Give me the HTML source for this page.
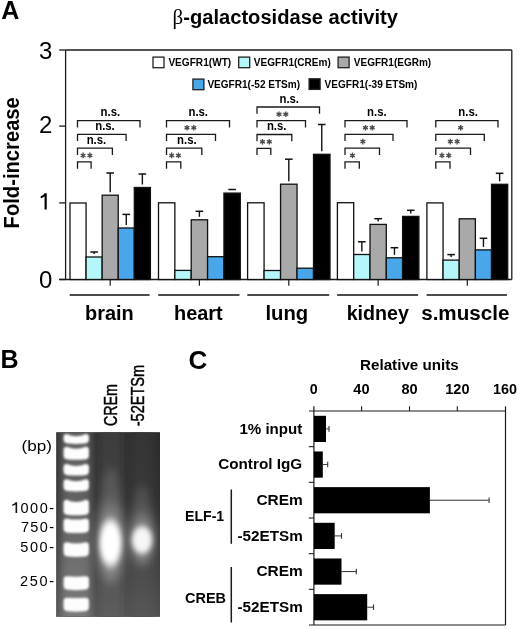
<!DOCTYPE html>
<html><head><meta charset="utf-8"><title>Figure</title>
<style>
html,body{margin:0;padding:0;background:#fff;}
body{width:520px;height:629px;overflow:hidden;font-family:"Liberation Sans", sans-serif;}
svg{display:block;opacity:0.999;}
</style></head>
<body>
<svg width="520" height="629" viewBox="0 0 520 629">
<rect x="0" y="0" width="520" height="629" fill="#fff"/>
<text x="1.2" y="19.1" font-size="25" font-weight="bold" fill="#000" text-anchor="start" font-family='"Liberation Sans", sans-serif' >A</text>
<text x="172.6" y="24.2" font-size="21" font-weight="normal" fill="#000" text-anchor="start" font-family='"Liberation Serif", serif' >&#946;</text>
<text x="183.3" y="23.8" font-size="20" font-weight="bold" fill="#000" text-anchor="start" textLength="214.6" lengthAdjust="spacingAndGlyphs" font-family='"Liberation Sans", sans-serif' >-galactosidase activity</text>
<text transform='translate(19.1,228.4) rotate(-90)' font-size='22' font-weight='bold' font-family='"Liberation Sans", sans-serif' textLength='131.2' lengthAdjust='spacingAndGlyphs'>Fold-increase</text>
<text x="52.4" y="59.2" font-size="24" font-weight="normal" fill="#000" text-anchor="end" font-family='"Liberation Sans", sans-serif' >3</text>
<text x="52.4" y="132.9" font-size="24" font-weight="normal" fill="#000" text-anchor="end" font-family='"Liberation Sans", sans-serif' >2</text>
<text x="52.4" y="287.8" font-size="24" font-weight="normal" fill="#000" text-anchor="end" font-family='"Liberation Sans", sans-serif' >0</text>
<path d="M44.55,193.2 H46.75 V209.6 H44.55 V196.6 Q43.2,197.6 40.7,198.2 V196.3 Q43.5,195.3 44.55,193.2 Z" fill="#000"/>
<line x1="59.2" y1="50" x2="65.6" y2="50" stroke="#1a1a1a" stroke-width="1.3"/>
<line x1="59.2" y1="126.1" x2="65.6" y2="126.1" stroke="#1a1a1a" stroke-width="1.3"/>
<line x1="59.2" y1="202.9" x2="65.6" y2="202.9" stroke="#1a1a1a" stroke-width="1.3"/>
<line x1="59.2" y1="279.5" x2="65.6" y2="279.5" stroke="#1a1a1a" stroke-width="1.3"/>
<line x1="65.6" y1="50" x2="65.6" y2="279.5" stroke="#1a1a1a" stroke-width="1.3"/>
<line x1="65.6" y1="50" x2="511.8" y2="50" stroke="#1a1a1a" stroke-width="1.3"/>
<line x1="511.8" y1="50" x2="511.8" y2="279.5" stroke="#1a1a1a" stroke-width="1.3"/>
<line x1="59.2" y1="279.5" x2="511.8" y2="279.5" stroke="#1a1a1a" stroke-width="1.3"/>
<rect x="70.0" y="203.0" width="16.08" height="76.5" fill="#ffffff" stroke="#111" stroke-width="1.3"/>
<line x1="94.12" y1="254.0" x2="94.12" y2="252.0" stroke="#111" stroke-width="1.4"/>
<line x1="90.32" y1="252.0" x2="97.92" y2="252.0" stroke="#111" stroke-width="1.5"/>
<rect x="86.08" y="257.0" width="16.08" height="22.5" fill="#b5f6fb" stroke="#111" stroke-width="1.3"/>
<line x1="110.2" y1="192.2" x2="110.2" y2="173.0" stroke="#111" stroke-width="1.4"/>
<line x1="106.4" y1="173.0" x2="114.0" y2="173.0" stroke="#111" stroke-width="1.5"/>
<rect x="102.16" y="195.2" width="16.08" height="84.3" fill="#a9a9a9" stroke="#111" stroke-width="1.3"/>
<line x1="126.28" y1="225.0" x2="126.28" y2="214.4" stroke="#111" stroke-width="1.4"/>
<line x1="122.48" y1="214.4" x2="130.08" y2="214.4" stroke="#111" stroke-width="1.5"/>
<rect x="118.24" y="228.0" width="16.08" height="51.5" fill="#4aa6ea" stroke="#111" stroke-width="1.3"/>
<line x1="142.36" y1="184.5" x2="142.36" y2="174.0" stroke="#111" stroke-width="1.4"/>
<line x1="138.56" y1="174.0" x2="146.16" y2="174.0" stroke="#111" stroke-width="1.5"/>
<rect x="134.32" y="187.5" width="16.08" height="92.0" fill="#000000" stroke="#111" stroke-width="1.3"/>
<line x1="110.2" y1="279.5" x2="110.2" y2="285.8" stroke="#1a1a1a" stroke-width="1.2"/>
<line x1="69.7" y1="295" x2="149.6" y2="295" stroke="#111" stroke-width="1.4"/>
<rect x="158.5" y="202.8" width="16.36" height="76.7" fill="#ffffff" stroke="#111" stroke-width="1.3"/>
<rect x="174.86" y="270.4" width="16.36" height="9.1" fill="#b5f6fb" stroke="#111" stroke-width="1.3"/>
<line x1="199.4" y1="216.8" x2="199.4" y2="211.3" stroke="#111" stroke-width="1.4"/>
<line x1="195.6" y1="211.3" x2="203.2" y2="211.3" stroke="#111" stroke-width="1.5"/>
<rect x="191.22" y="219.8" width="16.36" height="59.7" fill="#a9a9a9" stroke="#111" stroke-width="1.3"/>
<rect x="207.58" y="256.7" width="16.36" height="22.8" fill="#4aa6ea" stroke="#111" stroke-width="1.3"/>
<line x1="232.12" y1="190.1" x2="232.12" y2="189.5" stroke="#111" stroke-width="1.4"/>
<line x1="228.32" y1="189.5" x2="235.92" y2="189.5" stroke="#111" stroke-width="1.5"/>
<rect x="223.94" y="193.1" width="16.36" height="86.4" fill="#000000" stroke="#111" stroke-width="1.3"/>
<line x1="199.4" y1="279.5" x2="199.4" y2="285.8" stroke="#1a1a1a" stroke-width="1.2"/>
<line x1="158.2" y1="295" x2="239.5" y2="295" stroke="#111" stroke-width="1.4"/>
<rect x="247.6" y="202.8" width="16.48" height="76.7" fill="#ffffff" stroke="#111" stroke-width="1.3"/>
<rect x="264.08" y="270.5" width="16.48" height="9.0" fill="#b5f6fb" stroke="#111" stroke-width="1.3"/>
<line x1="288.8" y1="181.2" x2="288.8" y2="159.2" stroke="#111" stroke-width="1.4"/>
<line x1="285.0" y1="159.2" x2="292.6" y2="159.2" stroke="#111" stroke-width="1.5"/>
<rect x="280.56" y="184.2" width="16.48" height="95.3" fill="#a9a9a9" stroke="#111" stroke-width="1.3"/>
<rect x="297.04" y="268.2" width="16.48" height="11.3" fill="#4aa6ea" stroke="#111" stroke-width="1.3"/>
<line x1="321.76" y1="151.3" x2="321.76" y2="124.5" stroke="#111" stroke-width="1.4"/>
<line x1="317.96" y1="124.5" x2="325.56" y2="124.5" stroke="#111" stroke-width="1.5"/>
<rect x="313.52" y="154.3" width="16.48" height="125.2" fill="#000000" stroke="#111" stroke-width="1.3"/>
<line x1="288.8" y1="279.5" x2="288.8" y2="285.8" stroke="#1a1a1a" stroke-width="1.2"/>
<line x1="247.3" y1="295" x2="329.2" y2="295" stroke="#111" stroke-width="1.4"/>
<rect x="337.4" y="202.7" width="16.3" height="76.8" fill="#ffffff" stroke="#111" stroke-width="1.3"/>
<line x1="361.85" y1="251.5" x2="361.85" y2="241.8" stroke="#111" stroke-width="1.4"/>
<line x1="358.05" y1="241.8" x2="365.65" y2="241.8" stroke="#111" stroke-width="1.5"/>
<rect x="353.7" y="254.5" width="16.3" height="25.0" fill="#b5f6fb" stroke="#111" stroke-width="1.3"/>
<line x1="378.15" y1="221.4" x2="378.15" y2="218.7" stroke="#111" stroke-width="1.4"/>
<line x1="374.35" y1="218.7" x2="381.95" y2="218.7" stroke="#111" stroke-width="1.5"/>
<rect x="370.0" y="224.4" width="16.3" height="55.1" fill="#a9a9a9" stroke="#111" stroke-width="1.3"/>
<line x1="394.45" y1="254.8" x2="394.45" y2="247.7" stroke="#111" stroke-width="1.4"/>
<line x1="390.65" y1="247.7" x2="398.25" y2="247.7" stroke="#111" stroke-width="1.5"/>
<rect x="386.3" y="257.8" width="16.3" height="21.7" fill="#4aa6ea" stroke="#111" stroke-width="1.3"/>
<line x1="410.75" y1="213.4" x2="410.75" y2="210.3" stroke="#111" stroke-width="1.4"/>
<line x1="406.95" y1="210.3" x2="414.55" y2="210.3" stroke="#111" stroke-width="1.5"/>
<rect x="402.6" y="216.4" width="16.3" height="63.1" fill="#000000" stroke="#111" stroke-width="1.3"/>
<line x1="378.15" y1="279.5" x2="378.15" y2="285.8" stroke="#1a1a1a" stroke-width="1.2"/>
<line x1="337.1" y1="295" x2="418.1" y2="295" stroke="#111" stroke-width="1.4"/>
<rect x="426.9" y="202.9" width="16.16" height="76.6" fill="#ffffff" stroke="#111" stroke-width="1.3"/>
<line x1="451.14" y1="257.1" x2="451.14" y2="254.6" stroke="#111" stroke-width="1.4"/>
<line x1="447.34" y1="254.6" x2="454.94" y2="254.6" stroke="#111" stroke-width="1.5"/>
<rect x="443.06" y="260.1" width="16.16" height="19.4" fill="#b5f6fb" stroke="#111" stroke-width="1.3"/>
<rect x="459.22" y="218.8" width="16.16" height="60.7" fill="#a9a9a9" stroke="#111" stroke-width="1.3"/>
<line x1="483.46" y1="246.9" x2="483.46" y2="238.3" stroke="#111" stroke-width="1.4"/>
<line x1="479.66" y1="238.3" x2="487.26" y2="238.3" stroke="#111" stroke-width="1.5"/>
<rect x="475.38" y="249.9" width="16.16" height="29.6" fill="#4aa6ea" stroke="#111" stroke-width="1.3"/>
<line x1="499.62" y1="181.3" x2="499.62" y2="173.3" stroke="#111" stroke-width="1.4"/>
<line x1="495.82" y1="173.3" x2="503.42" y2="173.3" stroke="#111" stroke-width="1.5"/>
<rect x="491.54" y="184.3" width="16.16" height="95.2" fill="#000000" stroke="#111" stroke-width="1.3"/>
<line x1="467.3" y1="279.5" x2="467.3" y2="285.8" stroke="#1a1a1a" stroke-width="1.2"/>
<line x1="426.6" y1="295" x2="506.9" y2="295" stroke="#111" stroke-width="1.4"/>
<text x="85.0" y="319.7" font-size="19.5" font-weight="bold" fill="#000" text-anchor="start" textLength="48.8" lengthAdjust="spacingAndGlyphs" font-family='"Liberation Sans", sans-serif' >brain</text>
<text x="174.0" y="319.7" font-size="19.5" font-weight="bold" fill="#000" text-anchor="start" textLength="48.7" lengthAdjust="spacingAndGlyphs" font-family='"Liberation Sans", sans-serif' >heart</text>
<text x="265.4" y="319.7" font-size="19.5" font-weight="bold" fill="#000" text-anchor="start" textLength="42.8" lengthAdjust="spacingAndGlyphs" font-family='"Liberation Sans", sans-serif' >lung</text>
<text x="346.7" y="319.7" font-size="19.5" font-weight="bold" fill="#000" text-anchor="start" textLength="62.3" lengthAdjust="spacingAndGlyphs" font-family='"Liberation Sans", sans-serif' >kidney</text>
<text x="421.2" y="319.7" font-size="19.5" font-weight="bold" fill="#000" text-anchor="start" textLength="88.2" lengthAdjust="spacingAndGlyphs" font-family='"Liberation Sans", sans-serif' >s.muscle</text>
<rect x="153.0" y="57.1" width="11.0" height="10.6" fill="#ffffff" stroke="#222" stroke-width="1.3"/>
<rect x="238.7" y="57.1" width="11.0" height="10.6" fill="#b5f6fb" stroke="#222" stroke-width="1.3"/>
<rect x="338.1" y="57.1" width="11.0" height="10.6" fill="#a9a9a9" stroke="#222" stroke-width="1.3"/>
<rect x="192.9" y="79.1" width="11.0" height="10.6" fill="#4aa6ea" stroke="#222" stroke-width="1.3"/>
<rect x="309.1" y="78.8" width="11.0" height="10.6" fill="#000000" stroke="#222" stroke-width="1.3"/>
<text x="168.4" y="66.2" font-size="10.7" font-weight="bold" fill="#000" text-anchor="start" textLength="62.8" lengthAdjust="spacingAndGlyphs" font-family='"Liberation Sans", sans-serif' >VEGFR1(WT)</text>
<text x="253.8" y="66.2" font-size="10.7" font-weight="bold" fill="#000" text-anchor="start" textLength="77.0" lengthAdjust="spacingAndGlyphs" font-family='"Liberation Sans", sans-serif' >VEGFR1(CREm)</text>
<text x="353.8" y="66.2" font-size="10.7" font-weight="bold" fill="#000" text-anchor="start" textLength="77.4" lengthAdjust="spacingAndGlyphs" font-family='"Liberation Sans", sans-serif' >VEGFR1(EGRm)</text>
<text x="207.4" y="88.3" font-size="10.7" font-weight="bold" fill="#000" text-anchor="start" textLength="92.7" lengthAdjust="spacingAndGlyphs" font-family='"Liberation Sans", sans-serif' >VEGFR1(-52 ETSm)</text>
<text x="324.6" y="88.3" font-size="10.7" font-weight="bold" fill="#000" text-anchor="start" textLength="92.8" lengthAdjust="spacingAndGlyphs" font-family='"Liberation Sans", sans-serif' >VEGFR1(-39 ETSm)</text>
<path d="M77.5,127.39999999999999 V120.6 H140.0 V127.39999999999999" fill="none" stroke="#1a1a1a" stroke-width="1.3"/>
<text x="110.4" y="116.39999999999999" font-size="12.5" font-weight="bold" fill="#000" text-anchor="middle" textLength="19.6" lengthAdjust="spacingAndGlyphs" font-family='"Liberation Sans", sans-serif' >n.s.</text>
<path d="M77.5,141.10000000000002 V134.3 H126.1 V141.10000000000002" fill="none" stroke="#1a1a1a" stroke-width="1.3"/>
<text x="105.0" y="130.10000000000002" font-size="12.5" font-weight="bold" fill="#000" text-anchor="middle" textLength="19.6" lengthAdjust="spacingAndGlyphs" font-family='"Liberation Sans", sans-serif' >n.s.</text>
<path d="M77.5,154.9 V148.1 H112.4 V154.9" fill="none" stroke="#1a1a1a" stroke-width="1.3"/>
<text x="96.45" y="143.9" font-size="12.5" font-weight="bold" fill="#000" text-anchor="middle" textLength="19.6" lengthAdjust="spacingAndGlyphs" font-family='"Liberation Sans", sans-serif' >n.s.</text>
<path d="M77.5,168.70000000000002 V161.9 H91.1 V168.70000000000002" fill="none" stroke="#1a1a1a" stroke-width="1.3"/>
<line x1="83.10" y1="152.60" x2="83.10" y2="158.20" stroke="#4a4a4a" stroke-width="1.35"/>
<line x1="80.68" y1="154.00" x2="85.52" y2="156.80" stroke="#4a4a4a" stroke-width="1.35"/>
<line x1="85.52" y1="154.00" x2="80.68" y2="156.80" stroke="#4a4a4a" stroke-width="1.35"/>
<line x1="89.90" y1="152.60" x2="89.90" y2="158.20" stroke="#4a4a4a" stroke-width="1.35"/>
<line x1="87.48" y1="154.00" x2="92.32" y2="156.80" stroke="#4a4a4a" stroke-width="1.35"/>
<line x1="92.32" y1="154.00" x2="87.48" y2="156.80" stroke="#4a4a4a" stroke-width="1.35"/>
<path d="M166.5,127.39999999999999 V120.6 H229.5 V127.39999999999999" fill="none" stroke="#1a1a1a" stroke-width="1.3"/>
<text x="198.25" y="116.39999999999999" font-size="12.5" font-weight="bold" fill="#000" text-anchor="middle" textLength="19.6" lengthAdjust="spacingAndGlyphs" font-family='"Liberation Sans", sans-serif' >n.s.</text>
<path d="M166.5,141.10000000000002 V134.3 H215.5 V141.10000000000002" fill="none" stroke="#1a1a1a" stroke-width="1.3"/>
<line x1="187.00" y1="125.00" x2="187.00" y2="130.60" stroke="#4a4a4a" stroke-width="1.35"/>
<line x1="184.58" y1="126.40" x2="189.42" y2="129.20" stroke="#4a4a4a" stroke-width="1.35"/>
<line x1="189.42" y1="126.40" x2="184.58" y2="129.20" stroke="#4a4a4a" stroke-width="1.35"/>
<line x1="193.80" y1="125.00" x2="193.80" y2="130.60" stroke="#4a4a4a" stroke-width="1.35"/>
<line x1="191.38" y1="126.40" x2="196.22" y2="129.20" stroke="#4a4a4a" stroke-width="1.35"/>
<line x1="196.22" y1="126.40" x2="191.38" y2="129.20" stroke="#4a4a4a" stroke-width="1.35"/>
<path d="M166.5,154.9 V148.1 H201.8 V154.9" fill="none" stroke="#1a1a1a" stroke-width="1.3"/>
<text x="186.85" y="143.9" font-size="12.5" font-weight="bold" fill="#000" text-anchor="middle" textLength="19.6" lengthAdjust="spacingAndGlyphs" font-family='"Liberation Sans", sans-serif' >n.s.</text>
<path d="M166.5,168.70000000000002 V161.9 H180.8 V168.70000000000002" fill="none" stroke="#1a1a1a" stroke-width="1.3"/>
<line x1="171.65" y1="152.60" x2="171.65" y2="158.20" stroke="#4a4a4a" stroke-width="1.35"/>
<line x1="169.23" y1="154.00" x2="174.07" y2="156.80" stroke="#4a4a4a" stroke-width="1.35"/>
<line x1="174.07" y1="154.00" x2="169.23" y2="156.80" stroke="#4a4a4a" stroke-width="1.35"/>
<line x1="178.45" y1="152.60" x2="178.45" y2="158.20" stroke="#4a4a4a" stroke-width="1.35"/>
<line x1="176.03" y1="154.00" x2="180.87" y2="156.80" stroke="#4a4a4a" stroke-width="1.35"/>
<line x1="180.87" y1="154.00" x2="176.03" y2="156.80" stroke="#4a4a4a" stroke-width="1.35"/>
<path d="M257.0,113.8 V107.0 H319.5 V113.8" fill="none" stroke="#1a1a1a" stroke-width="1.3"/>
<text x="289.25" y="102.8" font-size="12.5" font-weight="bold" fill="#000" text-anchor="middle" textLength="19.6" lengthAdjust="spacingAndGlyphs" font-family='"Liberation Sans", sans-serif' >n.s.</text>
<path d="M257.0,127.50000000000001 V120.70000000000002 H305.5 V127.50000000000001" fill="none" stroke="#1a1a1a" stroke-width="1.3"/>
<line x1="279.00" y1="111.40" x2="279.00" y2="117.00" stroke="#4a4a4a" stroke-width="1.35"/>
<line x1="276.58" y1="112.80" x2="281.42" y2="115.60" stroke="#4a4a4a" stroke-width="1.35"/>
<line x1="281.42" y1="112.80" x2="276.58" y2="115.60" stroke="#4a4a4a" stroke-width="1.35"/>
<line x1="285.80" y1="111.40" x2="285.80" y2="117.00" stroke="#4a4a4a" stroke-width="1.35"/>
<line x1="283.38" y1="112.80" x2="288.22" y2="115.60" stroke="#4a4a4a" stroke-width="1.35"/>
<line x1="288.22" y1="112.80" x2="283.38" y2="115.60" stroke="#4a4a4a" stroke-width="1.35"/>
<path d="M257.0,141.3 V134.5 H291.8 V141.3" fill="none" stroke="#1a1a1a" stroke-width="1.3"/>
<text x="276.7" y="130.3" font-size="12.5" font-weight="bold" fill="#000" text-anchor="middle" textLength="19.6" lengthAdjust="spacingAndGlyphs" font-family='"Liberation Sans", sans-serif' >n.s.</text>
<path d="M257.0,155.10000000000002 V148.3 H270.8 V155.10000000000002" fill="none" stroke="#1a1a1a" stroke-width="1.3"/>
<line x1="262.50" y1="139.00" x2="262.50" y2="144.60" stroke="#4a4a4a" stroke-width="1.35"/>
<line x1="260.08" y1="140.40" x2="264.92" y2="143.20" stroke="#4a4a4a" stroke-width="1.35"/>
<line x1="264.92" y1="140.40" x2="260.08" y2="143.20" stroke="#4a4a4a" stroke-width="1.35"/>
<line x1="269.30" y1="139.00" x2="269.30" y2="144.60" stroke="#4a4a4a" stroke-width="1.35"/>
<line x1="266.88" y1="140.40" x2="271.72" y2="143.20" stroke="#4a4a4a" stroke-width="1.35"/>
<line x1="271.72" y1="140.40" x2="266.88" y2="143.20" stroke="#4a4a4a" stroke-width="1.35"/>
<path d="M345.0,127.39999999999999 V120.6 H407.0 V127.39999999999999" fill="none" stroke="#1a1a1a" stroke-width="1.3"/>
<text x="376.9" y="116.39999999999999" font-size="12.5" font-weight="bold" fill="#000" text-anchor="middle" textLength="19.6" lengthAdjust="spacingAndGlyphs" font-family='"Liberation Sans", sans-serif' >n.s.</text>
<path d="M345.0,141.10000000000002 V134.3 H393.0 V141.10000000000002" fill="none" stroke="#1a1a1a" stroke-width="1.3"/>
<line x1="365.45" y1="125.00" x2="365.45" y2="130.60" stroke="#4a4a4a" stroke-width="1.35"/>
<line x1="363.03" y1="126.40" x2="367.87" y2="129.20" stroke="#4a4a4a" stroke-width="1.35"/>
<line x1="367.87" y1="126.40" x2="363.03" y2="129.20" stroke="#4a4a4a" stroke-width="1.35"/>
<line x1="372.25" y1="125.00" x2="372.25" y2="130.60" stroke="#4a4a4a" stroke-width="1.35"/>
<line x1="369.83" y1="126.40" x2="374.67" y2="129.20" stroke="#4a4a4a" stroke-width="1.35"/>
<line x1="374.67" y1="126.40" x2="369.83" y2="129.20" stroke="#4a4a4a" stroke-width="1.35"/>
<path d="M345.0,154.9 V148.1 H379.5 V154.9" fill="none" stroke="#1a1a1a" stroke-width="1.3"/>
<line x1="362.85" y1="138.80" x2="362.85" y2="144.40" stroke="#4a4a4a" stroke-width="1.35"/>
<line x1="360.43" y1="140.20" x2="365.27" y2="143.00" stroke="#4a4a4a" stroke-width="1.35"/>
<line x1="365.27" y1="140.20" x2="360.43" y2="143.00" stroke="#4a4a4a" stroke-width="1.35"/>
<path d="M345.0,168.70000000000002 V161.9 H359.3 V168.70000000000002" fill="none" stroke="#1a1a1a" stroke-width="1.3"/>
<line x1="352.45" y1="152.60" x2="352.45" y2="158.20" stroke="#4a4a4a" stroke-width="1.35"/>
<line x1="350.03" y1="154.00" x2="354.87" y2="156.80" stroke="#4a4a4a" stroke-width="1.35"/>
<line x1="354.87" y1="154.00" x2="350.03" y2="156.80" stroke="#4a4a4a" stroke-width="1.35"/>
<path d="M435.8,127.39999999999999 V120.6 H498.0 V127.39999999999999" fill="none" stroke="#1a1a1a" stroke-width="1.3"/>
<text x="468.1" y="116.39999999999999" font-size="12.5" font-weight="bold" fill="#000" text-anchor="middle" textLength="19.6" lengthAdjust="spacingAndGlyphs" font-family='"Liberation Sans", sans-serif' >n.s.</text>
<path d="M435.8,141.10000000000002 V134.3 H484.3 V141.10000000000002" fill="none" stroke="#1a1a1a" stroke-width="1.3"/>
<line x1="460.65" y1="125.00" x2="460.65" y2="130.60" stroke="#4a4a4a" stroke-width="1.35"/>
<line x1="458.23" y1="126.40" x2="463.07" y2="129.20" stroke="#4a4a4a" stroke-width="1.35"/>
<line x1="463.07" y1="126.40" x2="458.23" y2="129.20" stroke="#4a4a4a" stroke-width="1.35"/>
<path d="M435.8,154.9 V148.1 H470.5 V154.9" fill="none" stroke="#1a1a1a" stroke-width="1.3"/>
<line x1="450.35" y1="138.80" x2="450.35" y2="144.40" stroke="#4a4a4a" stroke-width="1.35"/>
<line x1="447.93" y1="140.20" x2="452.77" y2="143.00" stroke="#4a4a4a" stroke-width="1.35"/>
<line x1="452.77" y1="140.20" x2="447.93" y2="143.00" stroke="#4a4a4a" stroke-width="1.35"/>
<line x1="457.15" y1="138.80" x2="457.15" y2="144.40" stroke="#4a4a4a" stroke-width="1.35"/>
<line x1="454.73" y1="140.20" x2="459.57" y2="143.00" stroke="#4a4a4a" stroke-width="1.35"/>
<line x1="459.57" y1="140.20" x2="454.73" y2="143.00" stroke="#4a4a4a" stroke-width="1.35"/>
<path d="M435.8,168.70000000000002 V161.9 H450.0 V168.70000000000002" fill="none" stroke="#1a1a1a" stroke-width="1.3"/>
<line x1="441.95" y1="152.60" x2="441.95" y2="158.20" stroke="#4a4a4a" stroke-width="1.35"/>
<line x1="439.53" y1="154.00" x2="444.37" y2="156.80" stroke="#4a4a4a" stroke-width="1.35"/>
<line x1="444.37" y1="154.00" x2="439.53" y2="156.80" stroke="#4a4a4a" stroke-width="1.35"/>
<line x1="448.75" y1="152.60" x2="448.75" y2="158.20" stroke="#4a4a4a" stroke-width="1.35"/>
<line x1="446.33" y1="154.00" x2="451.17" y2="156.80" stroke="#4a4a4a" stroke-width="1.35"/>
<line x1="451.17" y1="154.00" x2="446.33" y2="156.80" stroke="#4a4a4a" stroke-width="1.35"/>
<text x="0.6" y="367.7" font-size="25" font-weight="bold" fill="#000" text-anchor="start" font-family='"Liberation Sans", sans-serif' >B</text>
<text x="21.6" y="450.7" font-size="14.5" font-weight="normal" fill="#000" text-anchor="start" textLength="30.4" lengthAdjust="spacingAndGlyphs" font-family='"Liberation Sans", sans-serif' >(bp)</text>
<path d="M15.55,502.3 H17.15 V512.9 H15.55 V504.6 Q14.4,505.5 12.3,506.0 V504.6 Q14.9,503.8 15.55,502.3 Z" fill="#111"/>
<text x="20.5" y="513.1" font-size="14.5" font-weight="normal" fill="#000" text-anchor="start" textLength="33.6" lengthAdjust="spacing" font-family='"Liberation Sans", sans-serif' >000-</text>
<text x="20.9" y="532.2" font-size="14.5" font-weight="normal" fill="#000" text-anchor="start" textLength="33.2" lengthAdjust="spacing" font-family='"Liberation Sans", sans-serif' >750-</text>
<text x="20.3" y="552.0" font-size="14.5" font-weight="normal" fill="#000" text-anchor="start" textLength="33.8" lengthAdjust="spacing" font-family='"Liberation Sans", sans-serif' >500-</text>
<text x="20.1" y="586.0" font-size="14.5" font-weight="normal" fill="#000" text-anchor="start" textLength="33.9" lengthAdjust="spacing" font-family='"Liberation Sans", sans-serif' >250-</text>
<text transform='translate(117.2,426) rotate(-90)' font-size='17.5' font-family='"Liberation Sans", sans-serif' stroke='#000' stroke-width='0.45' textLength='42' lengthAdjust='spacingAndGlyphs'>CREm</text>
<text transform='translate(144.3,426.3) rotate(-90)' font-size='17.5' font-family='"Liberation Sans", sans-serif' stroke='#000' stroke-width='0.45' textLength='61.5' lengthAdjust='spacingAndGlyphs'>-52ETSm</text>
<defs>
<linearGradient id="gelv" x1="0" y1="0" x2="0" y2="1">
 <stop offset="0" stop-color="#fff" stop-opacity="0"/>
 <stop offset="0.35" stop-color="#fff" stop-opacity="0.02"/>
 <stop offset="1" stop-color="#fff" stop-opacity="0.17"/>
</linearGradient>
<radialGradient id="core" cx="0.5" cy="0.5" r="0.5">
 <stop offset="0" stop-color="#fff" stop-opacity="1"/>
 <stop offset="0.62" stop-color="#fff" stop-opacity="1"/>
 <stop offset="1" stop-color="#fff" stop-opacity="0"/>
</radialGradient>
<radialGradient id="glow" cx="0.5" cy="0.5" r="0.5">
 <stop offset="0" stop-color="#fff" stop-opacity="0.55"/>
 <stop offset="1" stop-color="#fff" stop-opacity="0"/>
</radialGradient>
<filter id="bl1" x="-30%" y="-30%" width="160%" height="160%"><feGaussianBlur stdDeviation="0.8"/></filter>
<filter id="bl2" x="-50%" y="-50%" width="200%" height="200%"><feGaussianBlur stdDeviation="2.2"/></filter>
<filter id="bl3" x="-50%" y="-50%" width="200%" height="200%"><feGaussianBlur stdDeviation="4"/></filter>
<clipPath id="gelclip"><rect x="56.2" y="432.2" width="103.8" height="184.6"/></clipPath>
</defs>
<rect x="56.2" y="432.2" width="103.8" height="184.6" fill="#2b2b2b"/>
<g clip-path="url(#gelclip)">
<rect x="60" y="425" width="32" height="200" fill="#5e5e5e" filter="url(#bl3)"/>
<rect x="98" y="425" width="26" height="200" fill="#3d3d3d" filter="url(#bl3)"/>
<rect x="129" y="425" width="25" height="200" fill="#363636" filter="url(#bl3)"/>
<rect x="56.2" y="432.2" width="103.8" height="184.6" fill="url(#gelv)"/>
<ellipse cx="110.8" cy="525" rx="11" ry="58" fill="#fff" opacity="0.13" filter="url(#bl3)"/>
<ellipse cx="142" cy="525" rx="10" ry="40" fill="#fff" opacity="0.12" filter="url(#bl3)"/>
<ellipse cx="110.6" cy="542" rx="19" ry="48" fill="url(#glow)" filter="url(#bl3)"/>
<ellipse cx="142.2" cy="539" rx="17" ry="32" fill="url(#glow)" filter="url(#bl3)"/>
<ellipse cx="110.5" cy="543" rx="13.2" ry="28" fill="url(#core)" filter="url(#bl2)"/>
<ellipse cx="142.0" cy="540.0" rx="12.2" ry="16.5" fill="url(#core)" opacity="0.92" filter="url(#bl2)"/>
<g filter="url(#bl1)" fill="#fdfdfd">
<path d="M63.6,437.0 Q63.6,434.0 67.1,434.0 C72.6,437.0 79.9,437.0 85.4,434.0 Q88.9,434.0 88.9,437.0 L88.9,439.5 Q88.9,443.5 83.9,443.5 Q76.25,444.3 68.6,443.5 Q63.6,443.5 63.6,439.5 Z"/>
<path d="M63.6,449.7 Q63.6,446.7 67.1,446.7 C72.6,449.3 79.9,449.3 85.4,446.7 Q88.9,446.7 88.9,449.7 L88.9,455.4 Q88.9,459.4 83.9,459.4 Q76.25,460.2 68.6,459.4 Q63.6,459.4 63.6,455.4 Z"/>
<path d="M63.6,467.1 Q63.6,464.1 67.1,464.1 C72.6,466.70000000000005 79.9,466.70000000000005 85.4,464.1 Q88.9,464.1 88.9,467.1 L88.9,471.2 Q88.9,475.2 83.9,475.2 Q76.25,476.0 68.6,475.2 Q63.6,475.2 63.6,471.2 Z"/>
<path d="M63.6,482.2 Q63.6,479.2 67.1,479.2 C72.6,481.8 79.9,481.8 85.4,479.2 Q88.9,479.2 88.9,482.2 L88.9,487.1 Q88.9,491.1 83.9,491.1 Q76.25,491.90000000000003 68.6,491.1 Q63.6,491.1 63.6,487.1 Z"/>
<path d="M63.6,502.8 Q63.6,499.8 67.1,499.8 C72.6,502.8 79.9,502.8 85.4,499.8 Q88.9,499.8 88.9,502.8 L88.9,510.9 Q88.9,514.9 83.9,514.9 Q76.25,515.6999999999999 68.6,514.9 Q63.6,514.9 63.6,510.9 Z"/>
<path d="M63.6,521.4 Q63.6,518.4 67.1,518.4 C72.6,520.0 79.9,520.0 85.4,518.4 Q88.9,518.4 88.9,521.4 L88.9,528.7 Q88.9,532.7 83.9,532.7 Q76.25,533.5 68.6,532.7 Q63.6,532.7 63.6,528.7 Z"/>
<path d="M63.6,545.2 Q63.6,542.2 67.1,542.2 C72.6,543.8000000000001 79.9,543.8000000000001 85.4,542.2 Q88.9,542.2 88.9,545.2 L88.9,552.5 Q88.9,556.5 83.9,556.5 Q76.25,557.3 68.6,556.5 Q63.6,556.5 63.6,552.5 Z"/>
<path d="M63.6,579.3 Q63.6,576.3 67.1,576.3 C72.6,576.9 79.9,576.9 85.4,576.3 Q88.9,576.3 88.9,579.3 L88.9,585.8 Q88.9,589.8 83.9,589.8 Q76.25,590.5999999999999 68.6,589.8 Q63.6,589.8 63.6,585.8 Z"/>
<path d="M63.6,600.8 Q63.6,597.8 67.1,597.8 C72.6,598.0999999999999 79.9,598.0999999999999 85.4,597.8 Q88.9,597.8 88.9,600.8 L88.9,607.3 Q88.9,611.3 83.9,611.3 Q76.25,612.0999999999999 68.6,611.3 Q63.6,611.3 63.6,607.3 Z"/>
</g>
</g>
<text x="188.6" y="369.3" font-size="26" font-weight="bold" fill="#000" text-anchor="start" font-family='"Liberation Sans", sans-serif' >C</text>
<text x="360.0" y="369.6" font-size="14.5" font-weight="bold" fill="#000" text-anchor="start" textLength="98.8" lengthAdjust="spacingAndGlyphs" font-family='"Liberation Sans", sans-serif' >Relative units</text>
<text x="313.8" y="394.3" font-size="14.2" font-weight="bold" fill="#000" text-anchor="middle" font-family='"Liberation Sans", sans-serif' >0</text>
<text x="361.4" y="394.3" font-size="14.2" font-weight="bold" fill="#000" text-anchor="middle" textLength="16.2" lengthAdjust="spacingAndGlyphs" font-family='"Liberation Sans", sans-serif' >40</text>
<text x="409.5" y="394.3" font-size="14.2" font-weight="bold" fill="#000" text-anchor="middle" textLength="16.2" lengthAdjust="spacingAndGlyphs" font-family='"Liberation Sans", sans-serif' >80</text>
<text x="457.4" y="394.3" font-size="14.2" font-weight="bold" fill="#000" text-anchor="middle" textLength="24.2" lengthAdjust="spacingAndGlyphs" font-family='"Liberation Sans", sans-serif' >120</text>
<text x="505.0" y="394.3" font-size="14.2" font-weight="bold" fill="#000" text-anchor="middle" textLength="24.0" lengthAdjust="spacingAndGlyphs" font-family='"Liberation Sans", sans-serif' >160</text>
<line x1="309.0" y1="411.0" x2="505.5" y2="411.0" stroke="#1a1a1a" stroke-width="1.2"/>
<line x1="313.9" y1="406.3" x2="313.9" y2="625.0" stroke="#1a1a1a" stroke-width="1.2"/>
<line x1="505.5" y1="406.3" x2="505.5" y2="625.0" stroke="#1a1a1a" stroke-width="1.2"/>
<line x1="309.0" y1="625.0" x2="505.5" y2="625.0" stroke="#1a1a1a" stroke-width="1.2"/>
<line x1="361.6" y1="406.3" x2="361.6" y2="411.0" stroke="#1a1a1a" stroke-width="1.1"/>
<line x1="409.5" y1="406.3" x2="409.5" y2="411.0" stroke="#1a1a1a" stroke-width="1.1"/>
<line x1="457.3" y1="406.3" x2="457.3" y2="411.0" stroke="#1a1a1a" stroke-width="1.1"/>
<line x1="308.8" y1="446.67" x2="313.9" y2="446.67" stroke="#1a1a1a" stroke-width="1.1"/>
<line x1="308.8" y1="482.33" x2="313.9" y2="482.33" stroke="#1a1a1a" stroke-width="1.1"/>
<line x1="308.8" y1="518.0" x2="313.9" y2="518.0" stroke="#1a1a1a" stroke-width="1.1"/>
<line x1="308.8" y1="553.67" x2="313.9" y2="553.67" stroke="#1a1a1a" stroke-width="1.1"/>
<line x1="308.8" y1="589.33" x2="313.9" y2="589.33" stroke="#1a1a1a" stroke-width="1.1"/>
<rect x="313.9" y="415.8" width="12.1" height="26.2" fill="#000"/>
<line x1="326.0" y1="428.9" x2="329.0" y2="428.9" stroke="#333" stroke-width="1.0"/>
<line x1="329.0" y1="426.1" x2="329.0" y2="431.7" stroke="#333" stroke-width="1.1"/>
<rect x="313.9" y="451.47" width="8.9" height="26.2" fill="#000"/>
<line x1="322.8" y1="464.57" x2="327.7" y2="464.57" stroke="#333" stroke-width="1.0"/>
<line x1="327.7" y1="461.77" x2="327.7" y2="467.37" stroke="#333" stroke-width="1.1"/>
<rect x="313.9" y="487.13" width="116.0" height="26.2" fill="#000"/>
<line x1="429.9" y1="500.23" x2="489.1" y2="500.23" stroke="#333" stroke-width="1.0"/>
<line x1="489.1" y1="497.43" x2="489.1" y2="503.03" stroke="#333" stroke-width="1.1"/>
<rect x="313.9" y="522.8" width="20.8" height="26.2" fill="#000"/>
<line x1="334.7" y1="535.9" x2="341.5" y2="535.9" stroke="#333" stroke-width="1.0"/>
<line x1="341.5" y1="533.1" x2="341.5" y2="538.7" stroke="#333" stroke-width="1.1"/>
<rect x="313.9" y="558.47" width="27.6" height="26.2" fill="#000"/>
<line x1="341.5" y1="571.57" x2="356.3" y2="571.57" stroke="#333" stroke-width="1.0"/>
<line x1="356.3" y1="568.77" x2="356.3" y2="574.37" stroke="#333" stroke-width="1.1"/>
<rect x="313.9" y="594.13" width="53.3" height="26.2" fill="#000"/>
<line x1="367.2" y1="607.23" x2="373.5" y2="607.23" stroke="#333" stroke-width="1.0"/>
<line x1="373.5" y1="604.43" x2="373.5" y2="610.03" stroke="#333" stroke-width="1.1"/>
<text x="239.4" y="433.5" font-size="14.5" font-weight="bold" fill="#000" text-anchor="start" textLength="62.9" lengthAdjust="spacingAndGlyphs" font-family='"Liberation Sans", sans-serif' >1% input</text>
<text x="218.2" y="468.7" font-size="14.5" font-weight="bold" fill="#000" text-anchor="start" textLength="84.0" lengthAdjust="spacingAndGlyphs" font-family='"Liberation Sans", sans-serif' >Control IgG</text>
<text x="256.4" y="505.0" font-size="14.5" font-weight="bold" fill="#000" text-anchor="start" textLength="46.4" lengthAdjust="spacingAndGlyphs" font-family='"Liberation Sans", sans-serif' >CREm</text>
<text x="237.5" y="540.8" font-size="14.5" font-weight="bold" fill="#000" text-anchor="start" textLength="65.3" lengthAdjust="spacingAndGlyphs" font-family='"Liberation Sans", sans-serif' >-52ETSm</text>
<text x="256.4" y="576.3" font-size="14.5" font-weight="bold" fill="#000" text-anchor="start" textLength="46.4" lengthAdjust="spacingAndGlyphs" font-family='"Liberation Sans", sans-serif' >CREm</text>
<text x="237.5" y="611.8" font-size="14.5" font-weight="bold" fill="#000" text-anchor="start" textLength="65.3" lengthAdjust="spacingAndGlyphs" font-family='"Liberation Sans", sans-serif' >-52ETSm</text>
<text x="185.0" y="520.8" font-size="14.5" font-weight="bold" fill="#000" text-anchor="start" textLength="39.2" lengthAdjust="spacingAndGlyphs" font-family='"Liberation Sans", sans-serif' >ELF-1</text>
<text x="185.0" y="602.5" font-size="14.5" font-weight="bold" fill="#000" text-anchor="start" textLength="41.0" lengthAdjust="spacingAndGlyphs" font-family='"Liberation Sans", sans-serif' >CREB</text>
<line x1="231.3" y1="489.5" x2="231.3" y2="543.8" stroke="#1a1a1a" stroke-width="1.5"/>
<line x1="231.3" y1="567.0" x2="231.3" y2="622.5" stroke="#1a1a1a" stroke-width="1.5"/>
</svg>
</body></html>
